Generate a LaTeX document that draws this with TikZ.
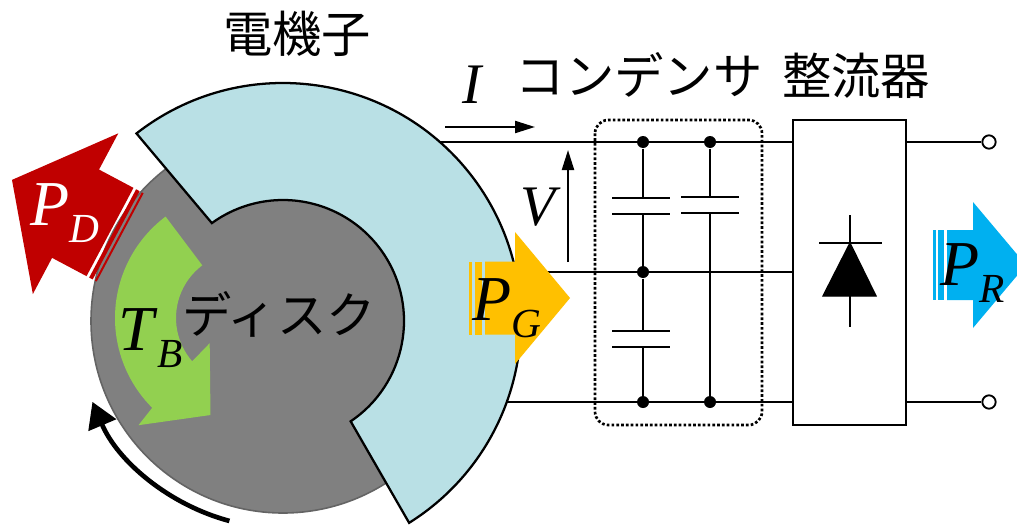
\documentclass[tikz,border=0pt]{standalone}
\usepackage{amsmath}
\usepackage{fontspec}
\setmainfont{Liberation Serif}
\newfontfamily\jp{Noto Sans CJK JP}
\usetikzlibrary{arrows.meta,calc}

\definecolor{diskgray}{RGB}{128,128,128}
\definecolor{diskedge}{RGB}{100,100,100}
\definecolor{armblue}{RGB}{185,224,229}
\definecolor{torqgreen}{RGB}{146,208,80}
\definecolor{lossred}{RGB}{192,0,0}
\definecolor{genorange}{RGB}{255,192,0}
\definecolor{outblue}{RGB}{0,176,240}

% power symbol with a lowered subscript
\newcommand{\flow}[2]{\fontsize{48}{48}\selectfont\textit{#1}\raisebox{-12.75pt}{\fontsize{31}{31}\selectfont\textit{#2}}}

\tikzset{every picture/.style={line width=0.75pt}}

\begin{document}
\begin{tikzpicture}[x=0.75pt,y=0.75pt,yscale=-1,xscale=1,
    wire/.style={line width=1.8pt},
    junction/.style={circle,fill=black,inner sep=0pt,minimum size=9pt},
    terminal/.style={circle,draw=black,fill=white,line width=1.4pt,inner sep=0pt,minimum size=10pt},
    meter/.style={line width=1.6pt,-{Triangle[length=15pt,width=9pt]}},
    jplabel/.style={inner sep=0pt,font=\jp\fontsize{37}{37}\selectfont},
    symlabel/.style={anchor=base west,inner sep=0pt}]
    \path[fill=white,use as bounding box] (0,0) rectangle (1017,525);

    % centres of disk/armature and of the torque arrow
    \coordinate (c) at (283,321);
    \coordinate (g) at (242,318);

    % generator leads, partly hidden under the armature
    \coordinate (gt) at (430,142);
    \coordinate (gm) at (500,272);
    \coordinate (gb) at (490,402);

    % rectifier block and output terminals
    \node[draw,fill=white,line width=1.8pt,minimum width=84.75pt,minimum height=228.75pt,inner sep=0pt] (rect) at (849.5,272.5) {};
    \node[terminal] (o1) at (989,142) {};
    \node[terminal] (o2) at (989,402) {};

    % junction dots of the capacitor bank
    \node[junction] (j1) at (643,142) {};
    \node[junction] (j2) at (710,142) {};
    \node[junction] (j3) at (643,272) {};
    \node[junction] (j4) at (643,402) {};
    \node[junction] (j5) at (710,402) {};

    % lines
    \draw[wire] (gt) -- (gt -| rect.west);
    \draw[wire] (gm) -- (gm -| rect.west);
    \draw[wire] (gb) -- (gb -| rect.west);
    \draw[wire] (rect.east |- o1) -- (o1);
    \draw[wire] (rect.east |- o2) -- (o2);

    % capacitors
    \draw[wire] (j1) -- (643,198);
    \draw[wire] (612,198) -- (670,198);
    \draw[wire] (612,214) -- (670,214);
    \draw[wire] (643,214) -- (j3);
    \draw[wire] (j3) -- (643,331);
    \draw[wire] (612,331) -- (670,331);
    \draw[wire] (612,347) -- (670,347);
    \draw[wire] (643,347) -- (j4);
    \draw[wire] (j2) -- (710,197);
    \draw[wire] (681,197) -- (739,197);
    \draw[wire] (681,213) -- (739,213);
    \draw[wire] (710,213) -- (j5);
    \draw[line width=2pt,dash pattern=on 2pt off 1.6pt,rounded corners=10pt] (595,120) rectangle (762,425);

    % diode
    \draw[fill=black,line width=1pt] (850,243) -- (823,296) -- (876,296) -- cycle;
    \draw[wire] (819,243) -- (882,243);
    \draw[wire] (850,215) -- (850,327);

    % disk
    \draw[fill=diskgray,draw=diskedge,line width=1.2pt] (c) circle[radius=192];

    % armature
    \draw[fill=armblue,line width=1.7pt] ($(c)+(-128:238)$) arc[start angle=-128,end angle=58,radius=238]
        -- ($(c)+(56:121)$) arc[start angle=56,end angle=-126,radius=121] -- cycle;

    % braking torque
    \fill[torqgreen] ($(g)+(-127:127)$) arc[start angle=-127,end angle=-225,radius=127]
        -- ($(g)+(-226:149)$) -- ($(g)+(-252:102)$) -- ($(g)+(-218:41)$)
        -- ($(g)+(-221:66)$) arc[start angle=-221,end angle=-127,radius=66] -- cycle;

    % rotation
    \draw[line width=3.5pt,-{Triangle[length=19pt,width=22pt]}] ($(c)+(105:207)$) arc[start angle=105,end angle=157,radius=207];

    % P_D
    \begin{scope}[shift={(110,232)},rotate=-152]
        \fill[lossred] (0,-50) -- (39,-50) -- (39,-91) -- (111,0) -- (39,91) -- (39,50) -- (0,50) -- cycle;
        \fill[lossred] (-7,-50) rectangle (-3,50);
        \fill[lossred] (-11.5,-50) rectangle (-9.5,50);
    \end{scope}
    % P_G
    \begin{scope}[shift={(485,298)}]
        \fill[genorange] (0,-36.5) -- (30,-36.5) -- (30,-66) -- (85,0) -- (30,66) -- (30,36.5) -- (0,36.5) -- cycle;
        \fill[genorange] (-10,-36.5) rectangle (-3,36.5);
        \fill[genorange] (-16,-36.5) rectangle (-13,36.5);
    \end{scope}
    % P_R
    \begin{scope}[shift={(947,265)}]
        \fill[outblue] (0,-35) -- (26,-35) -- (26,-63) -- (79,0) -- (26,63) -- (26,35) -- (0,35) -- cycle;
        \fill[outblue] (-9,-35) rectangle (-3,35);
        \fill[outblue] (-14,-35) rectangle (-11,35);
    \end{scope}

    % current and voltage
    \coordinate (ia) at (445,127);
    \coordinate (ib) at (535,127);
    \coordinate (va) at (568,262);
    \coordinate (vb) at (568,150);
    \draw[meter] (ia) -- (ib);
    \draw[meter] (va) -- (vb);

    % labels
    \node[symlabel] (ilab) at (462,103) {\fontsize{43}{43}\selectfont\textit{I}};
    \node[symlabel] (vlab) at (520,225) {\fontsize{43}{43}\selectfont\textit{V}};
    \node[symlabel,text=white] (pd) at (30,225) {\flow{P}{D}};
    \node[symlabel] (tb) at (118,350) {\flow{T}{B}};
    \node[symlabel] (pg) at (472,320) {\flow{P}{G}};
    \node[symlabel] (pr) at (940,285) {\flow{P}{R}};

    \node[jplabel] (armlab) at (297,34) {電機子};
    \node[jplabel] (caplab) at (639,75) {コンデンサ};
    \node[jplabel] (reclab) at (856,76) {整流器};
    \node[jplabel] (disklab) at (279,314) {ディスク};

\end{tikzpicture}
\end{document}
